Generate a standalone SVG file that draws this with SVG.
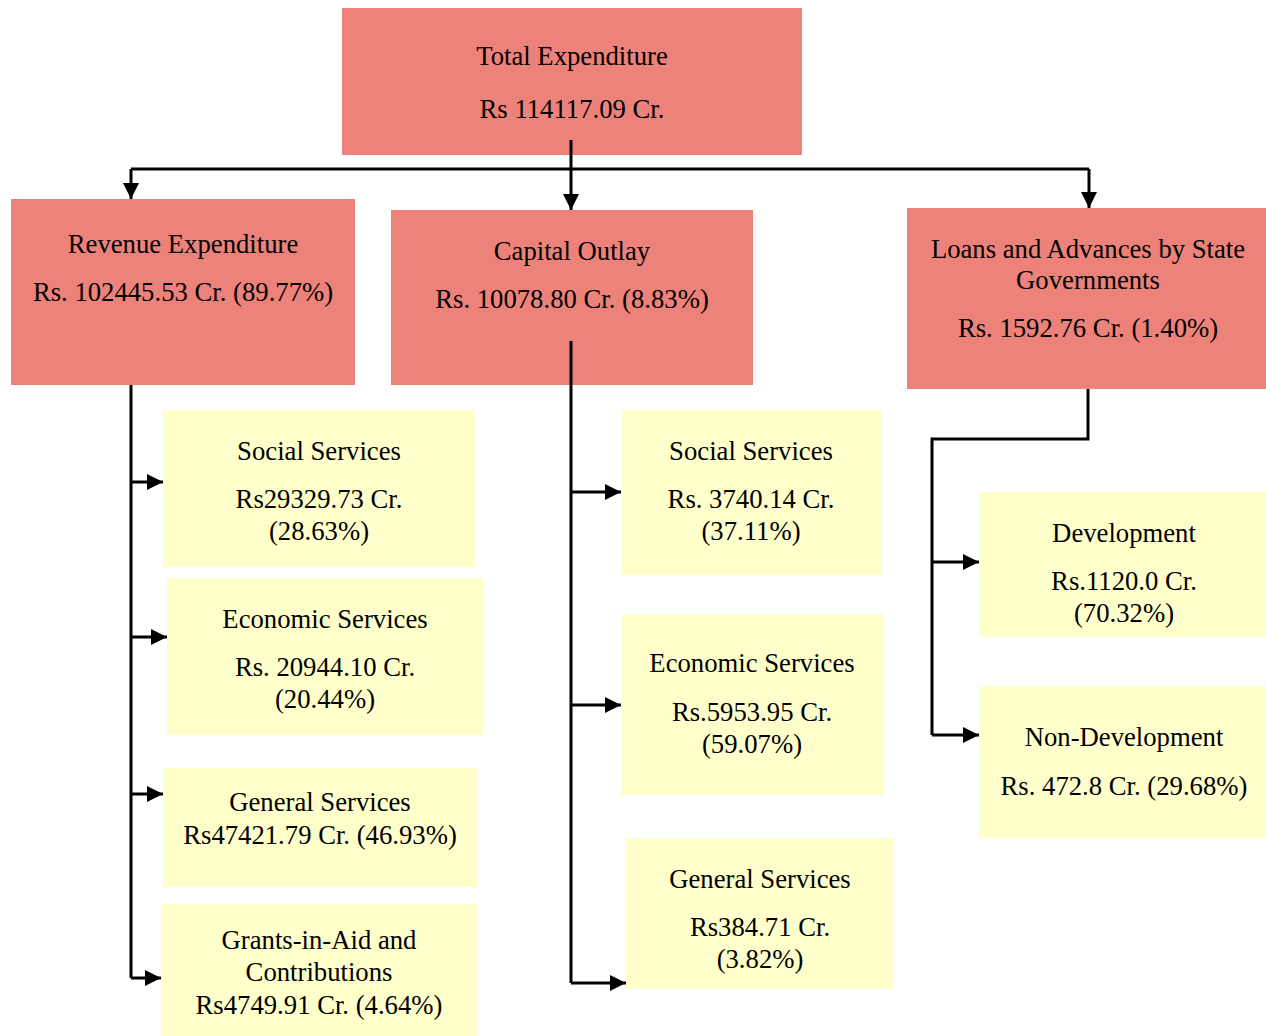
<svg xmlns="http://www.w3.org/2000/svg" width="1266" height="1036" viewBox="0 0 1266 1036">
<style>
.main{fill:#EC8279}
.sub{fill:#FFFFCC}
text{font-family:"Liberation Serif","Times New Roman",serif;font-size:26.7px;fill:#000;text-anchor:middle}
.c{fill:none;stroke:#000;stroke-width:3}
</style>
<defs>
<marker id="a" viewBox="0 0 10 10" refX="10" refY="5" markerWidth="5.5" markerHeight="5.5" markerUnits="strokeWidth" orient="auto"><path d="M0,0L10,5L0,10z" fill="#000"/></marker>
</defs>
<rect width="1266" height="1036" fill="#fff"/>
<g id="total"><rect class="main" x="342" y="8" width="460" height="147"/><text x="572" y="65">Total Expenditure</text><text x="572" y="118">Rs 114117.09 Cr.</text></g>
<g id="revenue"><rect class="main" x="11" y="199" width="344" height="186"/><text x="183" y="253">Revenue Expenditure</text><text x="183" y="301">Rs. 102445.53 Cr. (89.77%)</text></g>
<g id="capital"><rect class="main" x="391" y="210" width="362" height="175"/><text x="572" y="260">Capital Outlay</text><text x="572" y="308">Rs. 10078.80 Cr. (8.83%)</text></g>
<g id="loans"><rect class="main" x="907" y="208" width="359" height="181"/><text x="1088" y="258">Loans and Advances by State</text><text x="1088" y="289">Governments</text><text x="1088" y="337">Rs. 1592.76 Cr. (1.40%)</text></g>
<g id="rev-social"><rect class="sub" x="163" y="410" width="312" height="157"/><text x="319" y="460">Social Services</text><text x="319" y="508">Rs29329.73 Cr.</text><text x="319" y="540">(28.63%)</text></g>
<g id="rev-economic"><rect class="sub" x="167" y="578" width="316" height="157"/><text x="325" y="628">Economic Services</text><text x="325" y="676">Rs. 20944.10 Cr.</text><text x="325" y="708">(20.44%)</text></g>
<g id="rev-general"><rect class="sub" x="163" y="768" width="314" height="119"/><text x="320" y="811">General Services</text><text x="320" y="844">Rs47421.79 Cr. (46.93%)</text></g>
<g id="rev-grants"><rect class="sub" x="161" y="904" width="316" height="132"/><text x="319" y="949">Grants-in-Aid and</text><text x="319" y="981">Contributions</text><text x="319" y="1014">Rs4749.91 Cr. (4.64%)</text></g>
<g id="cap-social"><rect class="sub" x="621" y="410" width="260" height="165"/><text x="751" y="460">Social Services</text><text x="751" y="508">Rs. 3740.14 Cr.</text><text x="751" y="540">(37.11%)</text></g>
<g id="cap-economic"><rect class="sub" x="621" y="614" width="262" height="181"/><text x="752" y="672">Economic Services</text><text x="752" y="721">Rs.5953.95 Cr.</text><text x="752" y="753">(59.07%)</text></g>
<g id="cap-general"><rect class="sub" x="626" y="838" width="267" height="151"/><text x="760" y="888">General Services</text><text x="760" y="936">Rs384.71 Cr.</text><text x="760" y="968">(3.82%)</text></g>
<g id="loan-dev"><rect class="sub" x="979" y="492" width="287" height="145"/><text x="1124" y="542">Development</text><text x="1124" y="590">Rs.1120.0 Cr.</text><text x="1124" y="622">(70.32%)</text></g>
<g id="loan-nondev"><rect class="sub" x="979" y="686" width="287" height="152"/><text x="1124" y="746">Non-Development</text><text x="1124" y="795">Rs. 472.8 Cr. (29.68%)</text></g>
<g id="connectors">
<path class="c" d="M131,169H1089"/>
<path class="c" d="M131,169V199" marker-end="url(#a)"/>
<path class="c" d="M571,140V210" marker-end="url(#a)"/>
<path class="c" d="M1089,169V208" marker-end="url(#a)"/>
<path class="c" d="M131,385V978"/>
<path class="c" d="M131,482H163" marker-end="url(#a)"/>
<path class="c" d="M131,637H167" marker-end="url(#a)"/>
<path class="c" d="M131,794H163" marker-end="url(#a)"/>
<path class="c" d="M131,978H161" marker-end="url(#a)"/>
<path class="c" d="M571,341V983"/>
<path class="c" d="M571,492H621" marker-end="url(#a)"/>
<path class="c" d="M571,705H621" marker-end="url(#a)"/>
<path class="c" d="M571,983H626" marker-end="url(#a)"/>
<path class="c" d="M1088,389V439H932V735"/>
<path class="c" d="M932,562H979" marker-end="url(#a)"/>
<path class="c" d="M932,735H979" marker-end="url(#a)"/>
</g>
</svg>
